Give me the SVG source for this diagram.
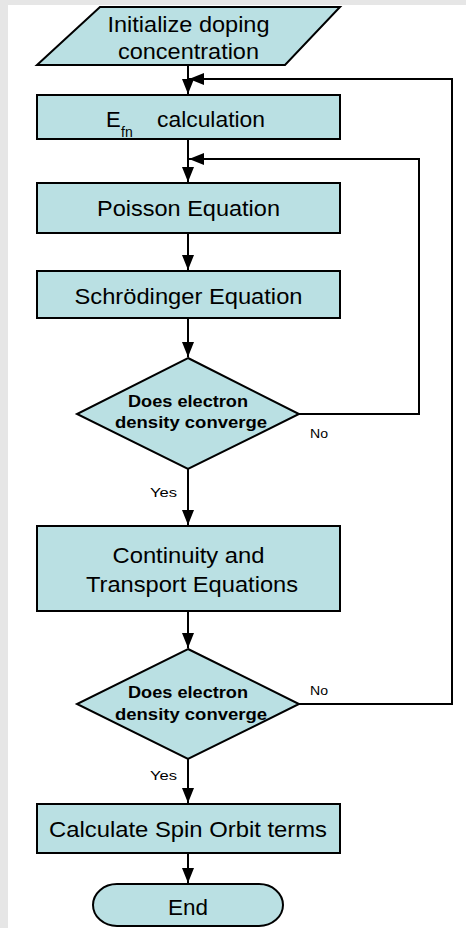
<svg xmlns="http://www.w3.org/2000/svg" width="466" height="928" viewBox="0 0 466 928">
<style>
.s{fill:#bae0e3;stroke:#000;stroke-width:2}
.t{font-family:"Liberation Sans",Arial,sans-serif;fill:#000;text-anchor:middle}
.m{font-size:22px}
.b{font-size:16px;font-weight:bold}
.l{font-size:13.5px;text-anchor:start}
.c{fill:none;stroke:#000;stroke-width:2}
</style>
<defs>
<marker id="ah" markerUnits="userSpaceOnUse" markerWidth="16" markerHeight="12" viewBox="0 0 16 12" refX="15" refY="6" orient="auto">
<path d="M0,0 L15,6 L0,12 Z" fill="#000"/>
</marker>
</defs>
<rect x="0" y="0" width="466" height="928" fill="#fff"/>
<rect x="0" y="0" width="466" height="5" fill="#e6e6e6"/>
<rect x="0" y="0" width="8" height="928" fill="#e6e6e6"/>
<g id="connectors">
<line class="c" x1="188" y1="65" x2="188" y2="94" marker-end="url(#ah)"/>
<polyline class="c" points="299,704 452,704 452,79 189,79" marker-end="url(#ah)"/>
<line class="c" x1="188" y1="139" x2="188" y2="182" marker-end="url(#ah)"/>
<polyline class="c" points="299,414 419,414 419,159 189,159" marker-end="url(#ah)"/>
<line class="c" x1="188" y1="233" x2="188" y2="270" marker-end="url(#ah)"/>
<line class="c" x1="188" y1="318" x2="188" y2="357" marker-end="url(#ah)"/>
<line class="c" x1="188" y1="469" x2="188" y2="525" marker-end="url(#ah)"/>
<line class="c" x1="188" y1="611" x2="188" y2="648" marker-end="url(#ah)"/>
<line class="c" x1="188" y1="759" x2="188" y2="803" marker-end="url(#ah)"/>
<line class="c" x1="188" y1="853" x2="188" y2="883" marker-end="url(#ah)"/>
<text class="t l" x="150" y="497" textLength="27" lengthAdjust="spacingAndGlyphs">Yes</text>
<text class="t l" x="310" y="438" textLength="18" lengthAdjust="spacingAndGlyphs">No</text>
<text class="t l" x="310" y="695" textLength="18" lengthAdjust="spacingAndGlyphs">No</text>
<text class="t l" x="150" y="780" textLength="27" lengthAdjust="spacingAndGlyphs">Yes</text>
</g>
<g id="init">
<polygon class="s" points="100,7 340,7 285,65 37,65"/>
<text class="t m" x="188.5" y="32" textLength="162" lengthAdjust="spacingAndGlyphs">Initialize doping</text>
<text class="t m" x="188.5" y="59" textLength="141" lengthAdjust="spacingAndGlyphs">concentration</text>
</g>
<g id="efn">
<rect class="s" x="37" y="95" width="303" height="44"/>
<text class="t m" x="106" y="127" style="text-anchor:start">E</text>
<text class="t" x="121" y="137" style="font-size:14px;text-anchor:start">fn</text>
<text class="t m" x="157" y="127" style="text-anchor:start" textLength="108" lengthAdjust="spacingAndGlyphs">calculation</text>
</g>
<g id="poisson">
<rect class="s" x="37" y="183" width="303" height="50"/>
<text class="t m" x="188.5" y="216" textLength="183" lengthAdjust="spacingAndGlyphs">Poisson Equation</text>
</g>
<g id="schrodinger">
<rect class="s" x="37" y="271" width="303" height="47"/>
<text class="t m" x="188.5" y="304" textLength="228" lengthAdjust="spacingAndGlyphs">Schrödinger Equation</text>
</g>
<g id="decision1">
<polygon class="s" points="188,358 299,414 188,469 77,414"/>
<text class="t b" x="188" y="407" textLength="120" lengthAdjust="spacingAndGlyphs">Does electron</text>
<text class="t b" x="191" y="428" textLength="152" lengthAdjust="spacingAndGlyphs">density converge</text>
</g>
<g id="continuity">
<rect class="s" x="37" y="526" width="303" height="85"/>
<text class="t m" x="188.5" y="563" textLength="152" lengthAdjust="spacingAndGlyphs">Continuity and</text>
<text class="t m" x="192" y="592" textLength="212" lengthAdjust="spacingAndGlyphs">Transport Equations</text>
</g>
<g id="decision2">
<polygon class="s" points="188,649 299,704 188,759 77,704"/>
<text class="t b" x="188" y="698" textLength="120" lengthAdjust="spacingAndGlyphs">Does electron</text>
<text class="t b" x="191" y="720" textLength="152" lengthAdjust="spacingAndGlyphs">density converge</text>
</g>
<g id="spin">
<rect class="s" x="37" y="804" width="303" height="49"/>
<text class="t m" x="188" y="837" textLength="278" lengthAdjust="spacingAndGlyphs">Calculate Spin Orbit terms</text>
</g>
<g id="end">
<rect class="s" x="93" y="884" width="190" height="42" rx="24" ry="21"/>
<text class="t m" x="188" y="915" textLength="40" lengthAdjust="spacingAndGlyphs">End</text>
</g>
</svg>
